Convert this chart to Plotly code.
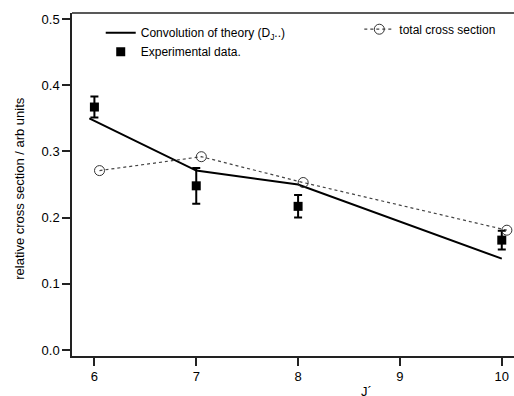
import plotly.graph_objects as go

# Data
theory_x = [5.95, 7.0, 8.0, 10.0]
theory_y = [0.350, 0.271, 0.250, 0.138]

exp_x = [6, 7, 8, 10]
exp_y = [0.367, 0.248, 0.217, 0.166]
exp_err = [0.016, 0.027, 0.017, 0.014]

total_x = [6.05, 7.05, 8.05, 10.05]
total_y = [0.271, 0.292, 0.253, 0.181]

x_ticks = [6, 7, 8, 9, 10]
y_ticks = [0.0, 0.1, 0.2, 0.3, 0.4, 0.5]

font_family = "Liberation Sans, Arial, Helvetica, sans-serif"

fig = go.Figure()

fig.add_trace(go.Scatter(
    x=theory_x, y=theory_y, mode="lines",
    line=dict(color="black", width=2),
    name="Convolution of theory (D<sub>J</sub>..)",
    legend="legend",
))
fig.add_trace(go.Scatter(
    x=exp_x, y=exp_y, mode="markers",
    marker=dict(symbol="square", size=9, color="black"),
    error_y=dict(type="data", array=exp_err, visible=True,
                 color="black", thickness=2, width=4),
    name="Experimental data.",
    legend="legend",
))
fig.add_trace(go.Scatter(
    x=total_x, y=total_y, mode="lines+markers",
    line=dict(color="#444444", width=1.2, dash="dot"),
    marker=dict(symbol="circle-open", size=10, color="#333333",
                line=dict(width=1)),
    name="total cross section",
    legend="legend2",
))

fig.update_layout(
    width=514, height=396,
    margin=dict(l=72, r=0, t=13, b=40),
    paper_bgcolor="white", plot_bgcolor="white",
    font=dict(family=font_family, size=12, color="black"),
    legend=dict(x=0.065, y=0.985, xanchor="left", yanchor="top",
                bgcolor="rgba(0,0,0,0)", font=dict(size=12),
                tracegroupgap=0, itemwidth=30),
    legend2=dict(x=0.65, y=0.995, xanchor="left", yanchor="top",
                 bgcolor="rgba(0,0,0,0)", font=dict(size=12), itemwidth=30),
    showlegend=True,
)

fig.update_xaxes(
    range=[5.78, 10.12], tickvals=x_ticks, ticktext=[str(t) for t in x_ticks],
    showgrid=False, zeroline=False, showline=True, linecolor="#222",
    linewidth=1.5, ticks="outside", ticklen=8, tickwidth=1.5, tickcolor="#222",
    tickfont=dict(size=13), mirror=False,
)
fig.update_yaxes(
    range=[-0.009, 0.509], tickvals=y_ticks,
    ticktext=[f"{t:.1f}" for t in y_ticks],
    showgrid=False, zeroline=False, showline=True, linecolor="#222",
    linewidth=1.5, ticks="outside", ticklen=8, tickwidth=1.5, tickcolor="#222",
    tickfont=dict(size=13),
)

# top frame line
fig.add_shape(type="line", xref="paper", yref="paper", x0=0, x1=1, y0=1, y1=1,
              line=dict(color="#222", width=1.5))

# axis titles as annotations
fig.add_annotation(text="relative cross section / arb units", xref="paper",
                   yref="paper", x=-0.118, y=0.49, textangle=-90,
                   showarrow=False, font=dict(size=13),
                   xanchor="center", yanchor="middle")
fig.add_annotation(text="J´", xref="paper", yref="paper", x=0.667, y=-0.075,
                   showarrow=False, font=dict(size=13),
                   xanchor="center", yanchor="top")

fig.write_html("out.html")
